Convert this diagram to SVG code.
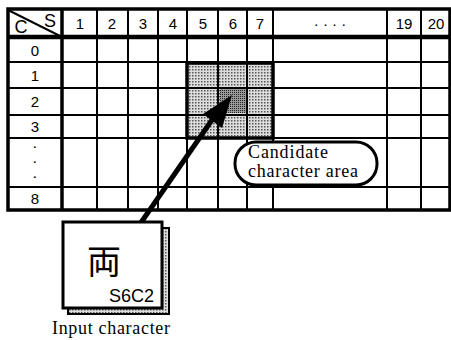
<svg xmlns="http://www.w3.org/2000/svg" width="451" height="340" viewBox="0 0 451 340">
<style>
.g{stroke:#000;stroke-width:2;fill:none}
.t{stroke:#000;stroke-width:3.5;fill:none}
.n{font-family:"Liberation Sans",Arial,sans-serif;font-size:15px;text-anchor:middle;fill:#000}
.s{font-family:"Liberation Serif","Times New Roman",serif;font-size:18px;fill:#000}
.d{font-family:"Liberation Sans",Arial,sans-serif;font-size:11px;font-weight:bold;text-anchor:middle;fill:#000}
</style>
<defs>
<pattern id="dots" width="3" height="3" patternUnits="userSpaceOnUse">
<rect width="3" height="3" fill="#ddd"/>
<rect width="1.5" height="1.5" fill="#555"/>
</pattern>
<pattern id="dark" width="2" height="2" patternUnits="userSpaceOnUse">
<rect width="2" height="2" fill="#999"/>
<rect width="1" height="1" fill="#222"/>
</pattern>
</defs>
<g id="grid">
<rect x="187" y="63" width="86" height="75" fill="url(#dots)"/>
<rect x="220" y="89" width="26" height="24" fill="url(#dark)"/>
<g class="g">
<line x1="97" y1="8" x2="97" y2="210"/>
<line x1="128" y1="8" x2="128" y2="210"/>
<line x1="158" y1="8" x2="158" y2="210"/>
<line x1="187" y1="8" x2="187" y2="210"/>
<line x1="218" y1="8" x2="218" y2="210"/>
<line x1="247" y1="8" x2="247" y2="210"/>
<line x1="273" y1="8" x2="273" y2="210"/>
<line x1="387" y1="8" x2="387" y2="210"/>
<line x1="421" y1="8" x2="421" y2="210"/>
<line x1="7" y1="62" x2="450" y2="62"/>
<line x1="7" y1="88" x2="450" y2="88"/>
<line x1="7" y1="115" x2="450" y2="115"/>
<line x1="7" y1="138" x2="450" y2="138"/>
<line x1="7" y1="187" x2="450" y2="187"/>
<line x1="8" y1="10" x2="62" y2="37"/>
</g>
<rect x="187" y="63" width="86" height="75" class="t"/>
<line x1="62" y1="8" x2="62" y2="210" class="t"/>
<line x1="7" y1="37" x2="450" y2="37" stroke="#000" stroke-width="4.5"/>
<rect x="8" y="9" width="442" height="201" class="t"/>
<g class="n">
<text x="21" y="33" font-size="18">C</text>
<text x="50" y="27" font-size="18">S</text>
<text x="80" y="29">1</text>
<text x="112" y="29">2</text>
<text x="143" y="29">3</text>
<text x="173" y="29">4</text>
<text x="203" y="29">5</text>
<text x="233" y="29">6</text>
<text x="260" y="29">7</text>
<text x="330" y="29">· · · ·</text>
<text x="404" y="29">19</text>
<text x="436" y="29">20</text>
<text x="35" y="56">0</text>
<text x="35" y="81">1</text>
<text x="35" y="107">2</text>
<text x="35" y="132">3</text>
<text x="35" y="204">8</text>
</g>
<text x="35" y="151" class="d">·</text>
<text x="35" y="166" class="d">·</text>
<text x="35" y="181" class="d">·</text>
</g>
<g id="candidate">
<rect x="235" y="142" width="142" height="43" rx="21" fill="#fff" stroke="#000" stroke-width="3"/>
<text x="248" y="158" class="s" font-size="16" textLength="80">Candidate</text>
<text x="248" y="177" class="s" font-size="16" textLength="110">character area</text>
</g>
<g id="connectors">
<line x1="140" y1="224" x2="214" y2="117" stroke="#000" stroke-width="5"/>
<polygon points="232,95 222,128 203,114" fill="#000"/>
</g>
<g id="input">
<rect x="68" y="228" width="101" height="86" fill="url(#dots)" stroke="#000" stroke-width="2"/>
<rect x="63" y="222" width="99" height="86" fill="#fff" stroke="#000" stroke-width="3"/>
<text x="104" y="274" font-family="'Noto Sans CJK JP','Noto Sans CJK SC',sans-serif" font-size="34" text-anchor="middle">両</text>
<text x="154" y="302" font-family="'Liberation Sans',Arial,sans-serif" font-size="18" text-anchor="end">S6C2</text>
<text x="52" y="334" class="s" textLength="118">Input character</text>
</g>
</svg>
